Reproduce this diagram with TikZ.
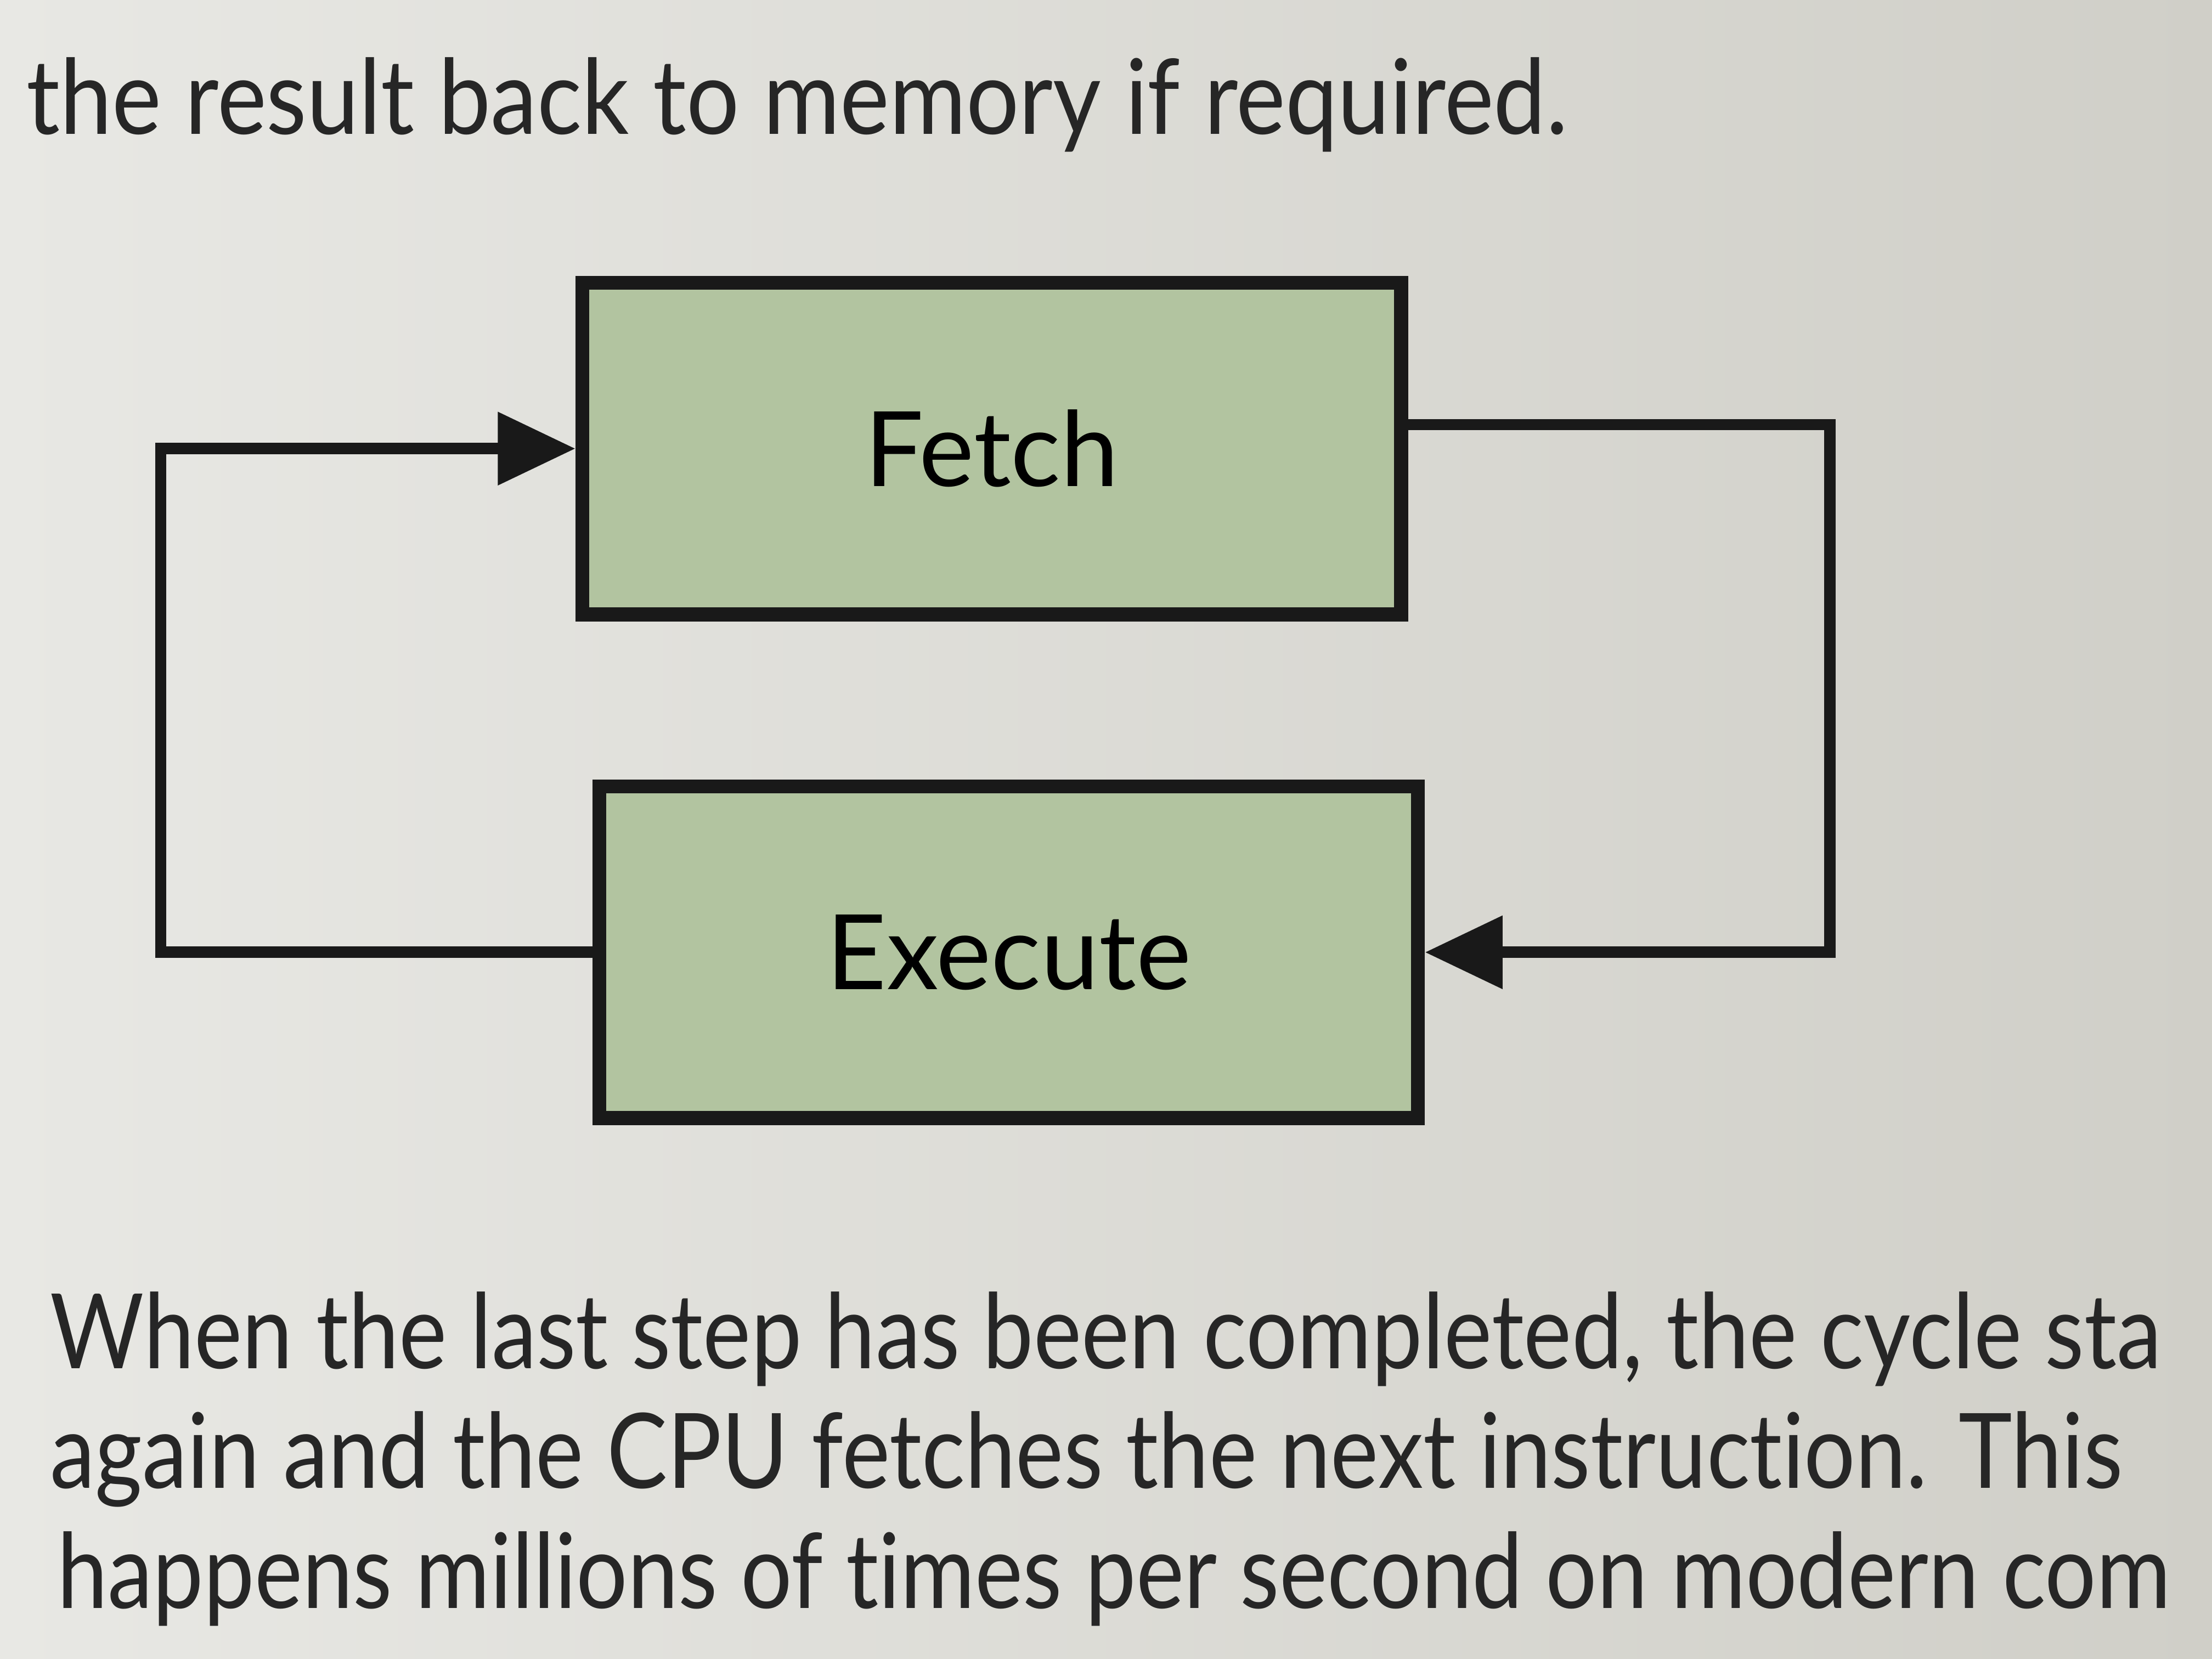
\documentclass[tikz,border=0pt]{standalone}
\usepackage{fontspec}
\setmainfont{Lato}[Ligatures=NoCommon]
\newfontfamily\pagefont{Lato}[FakeStretch=0.87, Ligatures=NoCommon]
\usetikzlibrary{positioning,arrows.meta}

\definecolor{paper}{RGB}{232,232,228}
\definecolor{paperdark}{RGB}{208,207,200}
\definecolor{boxgreen}{RGB}{178,196,160}

\tikzset{%
  % Specifications for style of nodes:
         stage/.style = {rectangle, draw = black!90, line width=2.8pt, minimum width=5.8cm, minimum height=2.35cm, fill=boxgreen, font=\fontsize{21}{25}\selectfont},
         loop/.style  = {line width=2.3pt, draw=black!90, -{Triangle[length=0.55cm, width=0.5cm]}},
         page/.style  = {anchor=base west, inner sep=0pt, font=\pagefont\fontsize{21}{25}\selectfont, text=black!85},
}

\begin{document}
\begin{tikzpicture}[x=0.01cm, y=-0.01cm]
    % Page
    \useasboundingbox (0,0) rectangle (1568,1176);
    \shade[left color=paper, right color=paperdark] (0,0) rectangle (1568,1176);
    \clip (0,0) rectangle (1568,1176);

    % Text round the picture
    \node (above)  [page, xscale=1.03] at (18,95) {the result back to memory if required.};
    \node (lineA)  [page] at (35,970)   {When the last step has been completed, the cycle sta};
    \node (lineB)  [page] at (35,1055)  {again and the CPU fetches the next instruction. This};
    \node (lineC)  [page] at (40,1140)  {happens millions of times per second on modern com};

    % Draw nodes
    \node (fetch)   [stage] at (703,318)                         {Fetch};
    \node (execute) [stage, below=1.12cm of fetch, xshift=1.2mm] {Execute};

    % Draw arrows
    \draw[loop] (execute.west) -- ++(-306,0) |- (fetch.west);
    \draw[loop] ([yshift=1.7mm]fetch.east) -- ++(299,0) |- (execute.east);

\end{tikzpicture}
\end{document}
